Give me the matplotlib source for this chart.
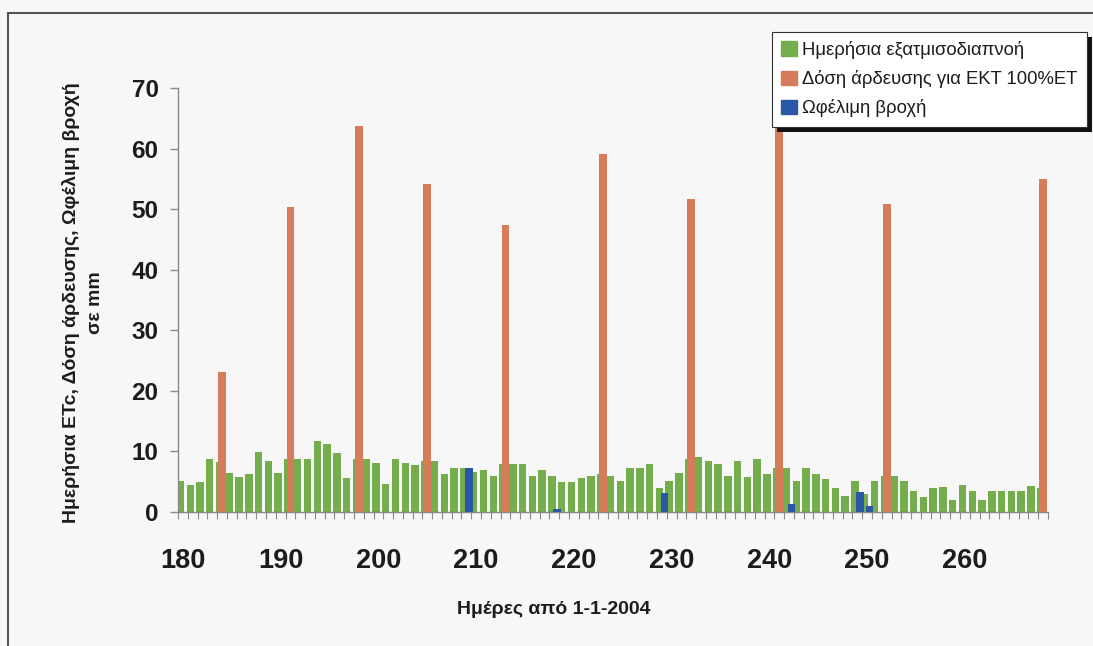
import matplotlib
matplotlib.use("Agg")
import matplotlib.pyplot as plt
from matplotlib.patches import Patch, Rectangle
from matplotlib.lines import Line2D
import numpy as np

plt.rcParams["font.family"] = ["Liberation Sans", "DejaVu Sans"]

# days since 1-1-2004
days = np.arange(180, 269)

# daily crop evapotranspiration (mm), one value per day 180..268
etc_daily = [
    5.2, 4.4, 5.0, 8.7, 8.3, 6.5, 5.7, 6.2, 9.9, 8.4,
    6.5, 8.7, 8.7, 8.7, 11.7, 11.2, 9.8, 5.6, 8.7, 8.7,
    8.1, 4.6, 8.8, 8.1, 7.8, 8.5, 8.5, 6.2, 7.3, 7.3,
    6.6, 7.0, 5.9, 8.0, 8.0, 8.0, 5.95, 6.9, 5.95, 5.0,
    5.0, 5.6, 5.95, 6.3, 5.9, 5.1, 7.3, 7.3, 8.0, 4.0,
    5.1, 6.5, 8.7, 9.0, 8.5, 8.0, 5.9, 8.4, 5.7, 8.8,
    6.2, 7.2, 7.2, 5.2, 7.2, 6.2, 5.5, 4.0, 2.6, 5.1,
    2.9, 5.2, 6.0, 5.9, 5.1, 3.5, 2.4, 4.0, 4.2, 2.0,
    4.4, 3.5, 2.0, 3.5, 3.5, 3.5, 3.5, 4.3, 4.0,
]

# irrigation events (day, dose in mm)
irrig_days = [184, 191, 198, 205, 213, 223, 232, 241, 252, 268]
irrig_dose = [23.1, 50.4, 63.8, 54.2, 47.4, 59.1, 51.7, 66.0, 50.8, 54.9]

# effective rainfall events (day, mm)
rain_days = [209, 218, 229, 242, 249, 250]
rain_mm = [7.3, 0.5, 3.1, 1.3, 3.3, 1.0]

labels = [
    "Ημερήσια εξατμισοδιαπνοή",
    "Δόση άρδευσης για ΕΚΤ 100%ΕΤ",
    "Ωφέλιμη βροχή",
]

GREEN = "#74ad4c"
ORANGE = "#d67c5b"
BLUE = "#2b57a6"
BG = "#f7f7f7"
TEXT = "#1c1c1c"
AXIS = "#8a8a8a"

W = 1093
H = 646
fig = plt.figure(figsize=(W / 100, H / 100), dpi=100)
fig.patch.set_facecolor(BG)
ax = fig.add_axes([178 / W, 1 - 512 / H, (1048 - 178) / W, (512 - 88) / H])
ax.set_facecolor(BG)

bw = 0.76
ax.bar(days - 0.25, etc_daily, width=bw, color=GREEN, zorder=2)
ax.bar(np.array(irrig_days), irrig_dose, width=0.8, color=ORANGE, zorder=3)
ax.bar(np.array(rain_days) + 0.25, rain_mm, width=bw, color=BLUE, zorder=4)

ax.set_xlim(179.5, 268.5)
ax.set_ylim(0, 70)

for side in ("top", "right"):
    ax.spines[side].set_visible(False)
for side in ("left", "bottom"):
    ax.spines[side].set_color(AXIS)
    ax.spines[side].set_linewidth(1.0)

ax.set_yticks(np.arange(0, 71, 10))
ax.tick_params(axis="y", direction="out", length=6, width=1, color=AXIS,
               pad=8, labelsize=17.5, labelcolor=TEXT)
for t in ax.get_yticklabels():
    t.set_fontweight("bold")

ax.set_xticks(np.arange(180, 261, 10))
ax.set_xticks(np.arange(179.5, 269, 1.0), minor=True)
ax.tick_params(axis="x", which="major", length=0, pad=26, labelsize=19.5,
               labelcolor=TEXT)
ax.tick_params(axis="x", which="minor", direction="out", length=5, width=0.8,
               color=AXIS)
for t in ax.get_xticklabels():
    t.set_fontweight("bold")

fig.text(83 / W, 1 - 303 / H,
         "Ημερήσια ETc, Δόση άρδευσης, Ωφέλιμη βροχή\nσε mm",
         rotation=90, ha="center", va="center", fontsize=14,
         fontweight="bold", color=TEXT, linespacing=1.5,
         multialignment="center")
fig.text(554 / W, 1 - 609 / H, "Ημέρες από 1-1-2004", ha="center",
         va="center", fontsize=14, fontweight="bold", color=TEXT)

# chart frame (left and top edges)
fig.add_artist(Line2D([8 / W, 8 / W], [0, 1 - 13 / H], color="#555555", lw=1.5))
fig.add_artist(Line2D([8 / W, 1], [1 - 13 / H, 1 - 13 / H], color="#555555", lw=1.5))

handles = [Patch(facecolor=c, edgecolor=c) for c in (GREEN, ORANGE, BLUE)]
leg = fig.legend(handles, labels, loc="upper left",
                 bbox_to_anchor=(772 / W, 1 - 32 / H), frameon=True,
                 fancybox=False, fontsize=13.3, handlelength=0.85,
                 handleheight=0.85, handletextpad=0.3, labelspacing=0.6,
                 borderpad=0.5, borderaxespad=0)
leg.get_frame().set_facecolor("white")
leg.get_frame().set_edgecolor("#333333")
leg.get_frame().set_linewidth(0.8)
leg.get_frame().set_alpha(1)
for t in leg.get_texts():
    t.set_color(TEXT)
leg.set_zorder(10)

# drop shadow behind the legend box
fig.canvas.draw()
bb = leg.get_window_extent()
off = 5
shadow = Rectangle(((bb.x0 + off) / W, (bb.y0 - off) / H),
                   bb.width / W, bb.height / H, transform=fig.transFigure,
                   facecolor="#111111", edgecolor="none", zorder=9)
fig.add_artist(shadow)

fig.savefig("out.png", dpi=100, facecolor=BG)
